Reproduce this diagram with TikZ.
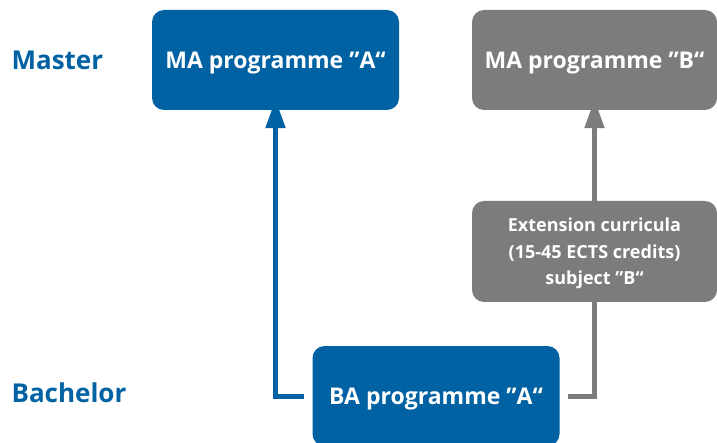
\documentclass[tikz,border=0pt]{standalone}
\usepackage{fontspec}
\setmainfont{Open Sans}
\usepackage{tikz}
\usetikzlibrary{arrows.meta}
\definecolor{uniblue}{RGB}{0,98,163}
\definecolor{unigray}{RGB}{123,124,126}

\begin{document}
\begin{tikzpicture}
  [x=1pt,y=-1pt,
   box/.style={rectangle,rounded corners=12pt,text=white,font=\bfseries\fontsize{23}{27}\selectfont,
     minimum width=247pt,minimum height=100pt,inner sep=0pt,text depth=0pt},
   level/.style={anchor=west,text=uniblue,font=\bfseries\fontsize{26}{30}\selectfont},
   link/.style={line width=5pt,-{Triangle[width=19pt,length=29pt]}}]
  \useasboundingbox (0,0) rectangle (717,443);
  \node[level] (lm) at (8,60)  {Master};
  \node[level] (lb) at (8,393) {Bachelor};
  \node[box,fill=uniblue] (ma) at (275.5,60) {MA programme ”A“};
  \node[box,fill=unigray,minimum width=245pt] (mb) at (594.5,60) {MA programme ”B“};
  \node[box,fill=unigray,minimum width=245pt,minimum height=101pt,align=center,
    font=\bfseries\fontsize{18}{26.5}\selectfont] (ext) at (594.5,251.5)
    {Extension curricula\\(15-45 ECTS credits)\\subject ”B“};
  \node[box,fill=uniblue] (ba) at (436,396) {BA programme ”A“};
  \draw[link,uniblue] ([xshift=-8pt]ba.west) -| ([yshift=11pt]ma.south);
  \draw[line width=5pt,unigray] ([xshift=8pt]ba.east) -| (ext.south);
  \draw[link,unigray] (ext.north) -- ([yshift=11pt]mb.south);
\end{tikzpicture}
\end{document}
